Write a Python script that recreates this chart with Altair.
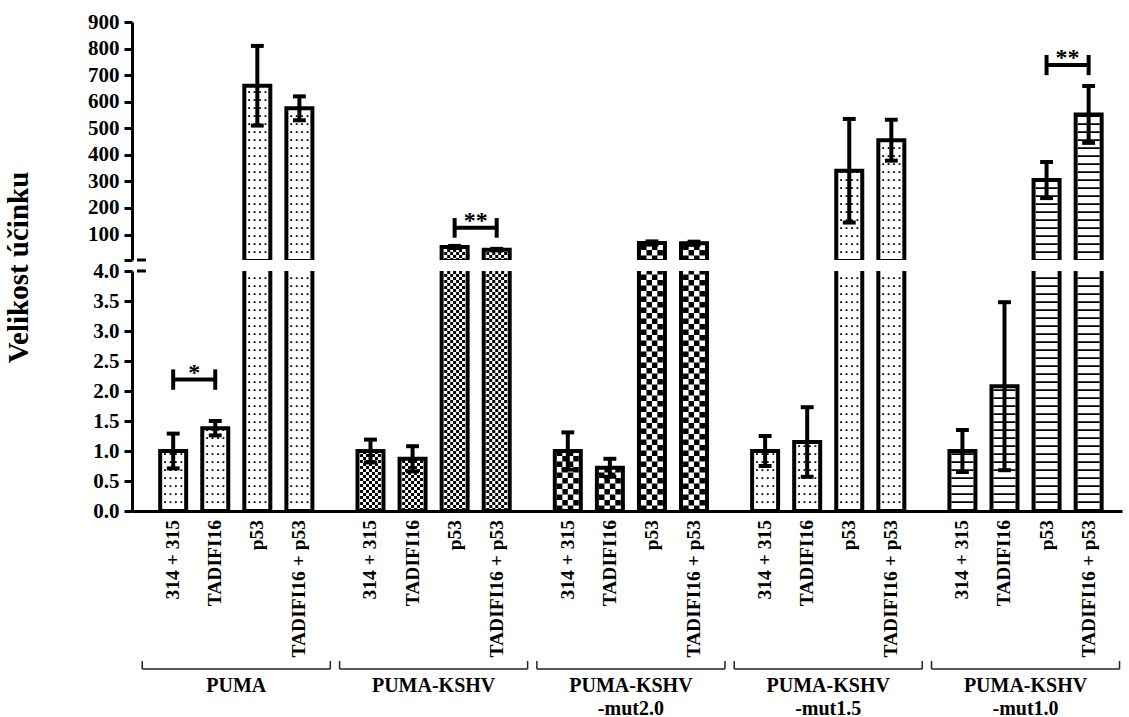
import altair as alt
import pandas as pd

# ---- data -------------------------------------------------------------
groups = ["PUMA", "PUMA-KSHV", "PUMA-KSHV\n-mut2.0", "PUMA-KSHV\n-mut1.5", "PUMA-KSHV\n-mut1.0"]
conditions = ["314 + 315", "TADIFI16", "p53", "TADIFI16 + p53"]

mean_puma = [1.00, 1.38, 660, 575]
err_puma = [0.29, 0.12, 150, 45]
mean_kshv = [1.00, 0.87, 53, 43]
err_kshv = [0.19, 0.21, 4, 3]
mean_mut20 = [1.00, 0.72, 68, 67]
err_mut20 = [0.31, 0.15, 6, 6]
mean_mut15 = [1.00, 1.15, 340, 455]
err_mut15 = [0.25, 0.58, 195, 77]
mean_mut10 = [1.00, 2.08, 305, 552]
err_mut10 = [0.35, 1.40, 68, 107]

means = [mean_puma, mean_kshv, mean_mut20, mean_mut15, mean_mut10]
errors = [err_puma, err_kshv, err_mut20, err_mut15, err_mut10]
patterns = ["dots", "fine", "coarse", "dots", "lines"]

# significance brackets: group, first bar, second bar, level, arm half-height, label
sig_group = [0, 1, 4]
sig_from = [0, 2, 2]
sig_to = [1, 3, 3]
sig_level = [2.19, 125, 738]
sig_arm = [0.17, 37, 38]
sig_label = ["*", "**", "**"]

# ---- layout -----------------------------------------------------------
FONT = "Liberation Serif"
BREAK = 4.0                 # axis break between the two panels
GROUP_STEP = 4.69           # distance between groups, in bar slots
PX_PER_SLOT = 42.5
PLOT_W = 990
X_MIN = -0.86
X_MAX = X_MIN + PLOT_W / PX_PER_SLOT
UPPER_H, LOWER_H, GAP = 238, 240, 11
CAP = 6.5 / PX_PER_SLOT     # half width of error-bar caps
BAR_SIZE, LINE_W = 26, 4

PAT = {
    "dots":   dict(cols=4, cell=5.5, width=1.8, dash=[1.8, 6.2], odd=0),
    "fine":   dict(cols=7, cell=3.0, width=3.0, dash=[3, 3], odd=3),
    "coarse": dict(cols=4, cell=5.5, width=5.5, dash=[5.5, 5.5], odd=5.5),
    "lines":  dict(cols=1, cell=22, width=22, dash=[1.8, 6.2], odd=0),
}

rows, tex = [], []
for g, grp in enumerate(groups):
    for b, cond in enumerate(conditions):
        pos = g * GROUP_STEP + b
        m, e = means[g][b], errors[g][b]
        rows.append(dict(group=grp, cond=cond, pos=pos, mean=m, err=e,
                         lo=m - e, hi=m + e, capl=pos - CAP, capr=pos + CAP,
                         zero=0.0, pattern=patterns[g]))
        p = PAT[patterns[g]]
        for k in range(p["cols"]):
            off = (k - (p["cols"] - 1) / 2) * p["cell"] / PX_PER_SLOT
            tex.append(dict(tx=pos + off, mean=m, zero=0.0,
                            pattern=patterns[g], parity=k % 2))
bars = pd.DataFrame(rows)
texture = pd.DataFrame(tex)

sig_rows, arm_rows = [], []
for i in range(len(sig_group)):
    a = sig_group[i] * GROUP_STEP + sig_from[i]
    c = sig_group[i] * GROUP_STEP + sig_to[i]
    sig_rows.append(dict(xa=a, xb=c, mid=(a + c) / 2, y=sig_level[i], label=sig_label[i]))
    for x in (a, c):
        arm_rows.append(dict(x=x, y1=sig_level[i] - sig_arm[i], y2=sig_level[i] + sig_arm[i],
                             big=sig_level[i] > BREAK))
sig = pd.DataFrame(sig_rows)
sig["big"] = sig["y"] > BREAK
arms = pd.DataFrame(arm_rows)

grp_rows = []
for g, grp in enumerate(groups):
    c = g * GROUP_STEP + 1.5
    grp_rows.append(dict(group=grp, center=c, left=c - 2.235, right=c + 2.235))
grp_df = pd.DataFrame(grp_rows)

break_df = pd.DataFrame([dict(x=X_MIN, x2=X_MIN + 9 / PX_PER_SLOT, y=BREAK)])

XS = alt.Scale(domain=[X_MIN, X_MAX], nice=False, zero=False)


def panel(big, height):
    if big:
        ys = alt.Scale(domain=[BREAK, 900], nice=False, zero=False)
        yaxis = alt.Axis(values=[BREAK] + list(range(100, 1000, 100)), format="d",
                         labelExpr="datum.value < 50 ? '' : datum.label", title="",
                         grid=False)
        xaxis = None
        bar_data = bars[bars["mean"] >= BREAK]
        tex_data = texture[texture["mean"] >= BREAK]
        err_data = bars[bars["mean"] >= BREAK]
        sig_data = sig[sig["big"]]
        arm_data = arms[arms["big"]]
    else:
        ys = alt.Scale(domain=[0, BREAK], nice=False, zero=False)
        yaxis = alt.Axis(values=[i / 2 for i in range(9)], format=".1f",
                         title="Velikost účinku", titleX=-99, titleY=-4,
                         titleAngle=270, titleAlign="center", titleBaseline="bottom",
                         grid=False)
        xaxis = alt.Axis(labels=False, ticks=False, title="", grid=False)
        bar_data = bars
        tex_data = texture
        err_data = bars[bars["mean"] < BREAK]
        sig_data = sig[~sig["big"]]
        arm_data = arms[~arms["big"]]

    def X(f):
        return alt.X(f, type="quantitative", scale=XS, axis=xaxis)

    def Y(f):
        return alt.Y(f, type="quantitative", scale=ys, axis=yaxis)

    layers = []
    # fill textures: dashed rules stacked inside each bar
    for name, p in PAT.items():
        for parity in (0, 1):
            d = tex_data[(tex_data["pattern"] == name) & (tex_data["parity"] == parity)]
            if d.empty:
                continue
            layers.append(
                alt.Chart(d).mark_rule(color="black", strokeWidth=p["width"],
                                       strokeDash=p["dash"],
                                       strokeDashOffset=p["odd"] * parity, clip=True)
                .encode(x=X("tx"), y=Y("zero"), y2="mean:Q")
            )
    # bar outlines
    layers.append(
        alt.Chart(bar_data).mark_bar(size=BAR_SIZE, fill="white", fillOpacity=0,
                                     stroke="black", strokeWidth=LINE_W, clip=True)
        .encode(x=X("pos"), y=Y("mean"), y2="zero:Q")
    )
    # error bars and caps
    layers.append(
        alt.Chart(err_data).mark_rule(color="black", strokeWidth=LINE_W, clip=True)
        .encode(x=X("pos"), y=Y("lo"), y2="hi:Q")
    )
    for f in ("lo", "hi"):
        layers.append(
            alt.Chart(err_data).mark_rule(color="black", strokeWidth=4, clip=True)
            .encode(x=X("capl"), x2="capr:Q", y=Y(f))
        )
    # significance brackets
    if not sig_data.empty:
        layers.append(
            alt.Chart(sig_data).mark_rule(color="black", strokeWidth=4)
            .encode(x=X("xa"), x2="xb:Q", y=Y("y"))
        )
        layers.append(
            alt.Chart(arm_data).mark_rule(color="black", strokeWidth=4)
            .encode(x=X("x"), y=Y("y1"), y2="y2:Q")
        )
        layers.append(
            alt.Chart(sig_data).mark_text(font=FONT, fontSize=24, fontWeight="bold",
                                          baseline="alphabetic", dy=0, color="black")
            .encode(x=X("mid"), y=Y("y"), text="label:N")
        )
    # axis-break caps
    layers.append(
        alt.Chart(break_df).mark_rule(color="black", strokeWidth=3)
        .encode(x=X("x"), x2="x2:Q", y=Y("y"))
    )
    if not big:
        layers.append(
            alt.Chart(bars).mark_text(font=FONT, fontSize=19.5, fontWeight="bold",
                                      angle=270, align="right", baseline="middle",
                                      color="black")
            .encode(x=X("pos"), y=alt.value(height + 9), text="cond:N")
        )
        layers.append(
            alt.Chart(grp_df).mark_rule(color="#222", strokeWidth=1.5)
            .encode(x=X("left"), x2="right:Q", y=alt.value(height + 158))
        )
        for f in ("left", "right"):
            layers.append(
                alt.Chart(grp_df).mark_rule(color="#222", strokeWidth=1.5)
                .encode(x=X(f), y=alt.value(height + 150), y2=alt.value(height + 158))
            )
        layers.append(
            alt.Chart(grp_df).mark_text(font=FONT, fontSize=20, fontWeight="bold",
                                        baseline="alphabetic", lineBreak="\n",
                                        lineHeight=23, color="black")
            .encode(x=X("center"), y=alt.value(height + 181), text="group:N")
        )
    return alt.layer(*layers).properties(width=PLOT_W, height=height)


upper = panel(True, UPPER_H)
lower = panel(False, LOWER_H)

chart = (
    alt.vconcat(upper, lower, spacing=GAP, bounds="flush")
    .properties(padding={"left": 3, "top": 10, "right": 0, "bottom": 0})
    .configure_view(stroke="transparent")
    .configure_axis(
        domainColor="black", domainWidth=3, tickColor="black", tickWidth=3,
        tickSize=8, labelFont=FONT, labelFontSize=21, labelFontWeight="bold",
        labelColor="black", labelPadding=5, titleFont=FONT, titleFontSize=29,
        titleFontWeight="bold", titleColor="black",
    )
)

chart.save("out.html", embed_options={"renderer": "svg", "actions": False})
